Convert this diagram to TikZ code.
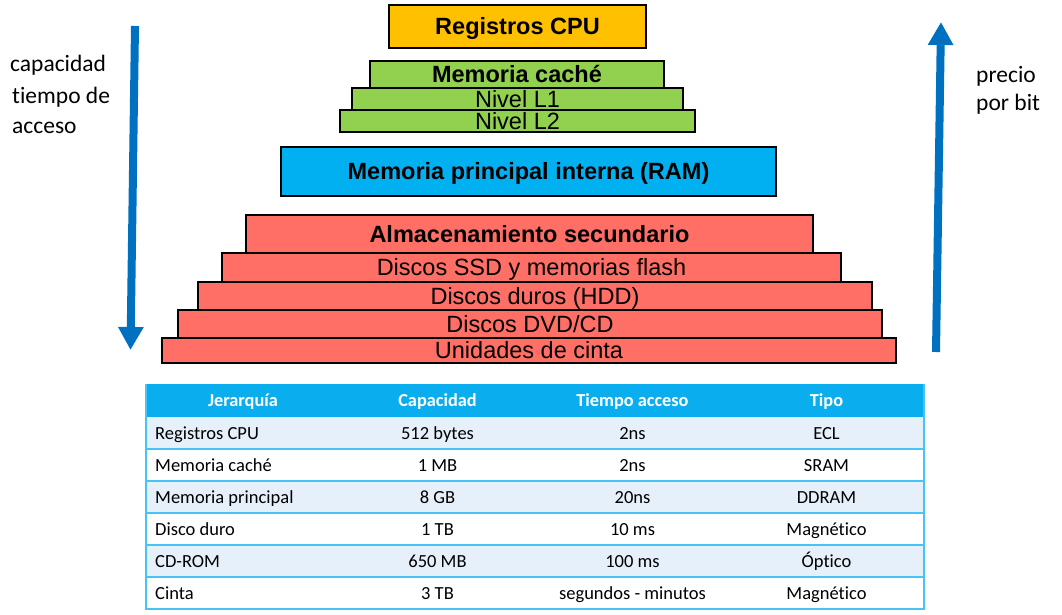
\documentclass[tikz,border=0pt]{standalone}
\usepackage{fontspec}
\setmainfont{Liberation Sans}
\newfontfamily\calfont[Ligatures=NoCommon]{Carlito}
\usetikzlibrary{arrows.meta}
\definecolor{cpuorange}{HTML}{FFC000}
\definecolor{cachegreen}{HTML}{92D050}
\definecolor{ramblue}{HTML}{00B0F0}
\definecolor{secred}{HTML}{FF6F65}
\definecolor{arrowblue}{HTML}{0070C0}
\definecolor{hdrblue}{HTML}{0AAEEF}
\definecolor{rowlight}{HTML}{E6F0FA}
\definecolor{rowline}{HTML}{45C4F5}
\begin{document}
\begin{tikzpicture}[x=1pt,y=-1pt,
  level/.style={draw=black, line width=1.2pt, inner sep=0pt, text height=16.8pt, text depth=0pt,
    font=\fontsize{23.5}{26}\selectfont},
  cell/.style={inner sep=0pt, text height=11.9pt, text depth=0pt, font=\calfont\fontsize{18.5}{22}\selectfont},
  hdr/.style={inner sep=0pt, text height=11.9pt, text depth=0pt, text=white, font=\calfont\bfseries\fontsize{18.3}{22}\selectfont},
  side/.style={inner sep=0pt, anchor=base west, font=\calfont\fontsize{23.5}{28}\selectfont},
  bigarrow/.style={arrowblue, line width=8pt, -{Triangle[width=24pt,length=23pt]}}
]
\useasboundingbox (0,0) rectangle (1062,615);

% pyramid
\node[level, fill=cpuorange, minimum width=257pt, minimum height=43pt] (cpu) at (517.5,26.5) {\textbf{Registros CPU}};
\node[level, fill=cachegreen, minimum width=294pt, minimum height=27pt] (cache) at (517,74.5) {\textbf{Memoria caché}};
\node[level, fill=cachegreen, minimum width=331pt, minimum height=22pt] (l1) at (517.5,99) {Nivel L1};
\node[level, fill=cachegreen, minimum width=355pt, minimum height=22pt] (l2) at (517.5,121) {Nivel L2};
\node[level, fill=ramblue, minimum width=495pt, minimum height=49pt] (ram) at (528.5,171.5) {\textbf{Memoria principal interna (RAM)}};
\node[level, fill=secred, minimum width=567pt, minimum height=38pt] (sec) at (529.5,234) {\textbf{Almacenamiento secundario}};
\node[level, fill=secred, minimum width=619pt, minimum height=29pt] (ssd) at (531.5,267.5) {Discos SSD y memorias flash};
\node[level, fill=secred, minimum width=674pt, minimum height=28pt] (hdd) at (535,296) {Discos duros (HDD)};
\node[level, fill=secred, minimum width=704pt, minimum height=28pt] (dvd) at (530,324) {Discos DVD/CD};
\node[level, fill=secred, minimum width=734pt, minimum height=25pt] (cinta) at (529,350.5) {Unidades de cinta};

% side labels
\node[side] (lblA) at (10,72) {capacidad};
\node[side] (lblB) at (12,103) {tiempo de};
\node[side] (lblC) at (12,133) {acceso};
\node[side] (lblD) at (976,83) {precio};
\node[side] (lblE) at (976,110.5) {por bit};

% arrows
\coordinate (downS) at (135,26);
\coordinate (downE) at (130.5,350);
\coordinate (upS) at (936,352);
\coordinate (upE) at (941,22);
\draw[bigarrow] (downS) -- (downE);
\draw[bigarrow] (upS) -- (upE);

% table
\fill[hdrblue] (146,384) rectangle (924,417);
\foreach \i in {1,3,5} {
  \fill[rowlight] (146,{385+32*\i}) rectangle (924,{417+32*\i});
}
\foreach \i in {1,...,6} {
  \draw[rowline, line width=2pt] (146,{417+32*\i}) -- (924,{417+32*\i});
}
\draw[rowline, line width=2pt] (146,384) -- (146,610);
\draw[rowline, line width=2pt] (923.5,384) -- (923.5,610);

\node[hdr] (h1) at (243,400.5) {Jerarquía};
\node[hdr] (h2) at (437.5,400.5) {Capacidad};
\node[hdr] (h3) at (632.5,400.5) {Tiempo acceso};
\node[hdr] (h4) at (826.5,400.5) {Tipo};

\foreach \i/\a/\b/\c/\d in {1/Registros CPU/512 bytes/2ns/ECL,
  2/Memoria caché/1 MB/2ns/SRAM,
  3/Memoria principal/8 GB/20ns/DDRAM,
  4/Disco duro/1 TB/10 ms/Magnético,
  5/CD-ROM/650 MB/100 ms/Óptico,
  6/Cinta/3 TB/segundos - minutos/Magnético} {
  \node[cell, anchor=west] (r\i c1) at (155,{401.5+32*\i}) {\a};
  \node[cell] (r\i c2) at (437.5,{401.5+32*\i}) {\b};
  \node[cell] (r\i c3) at (632.5,{401.5+32*\i}) {\c};
  \node[cell] (r\i c4) at (826.5,{401.5+32*\i}) {\d};
}
\end{tikzpicture}
\end{document}
